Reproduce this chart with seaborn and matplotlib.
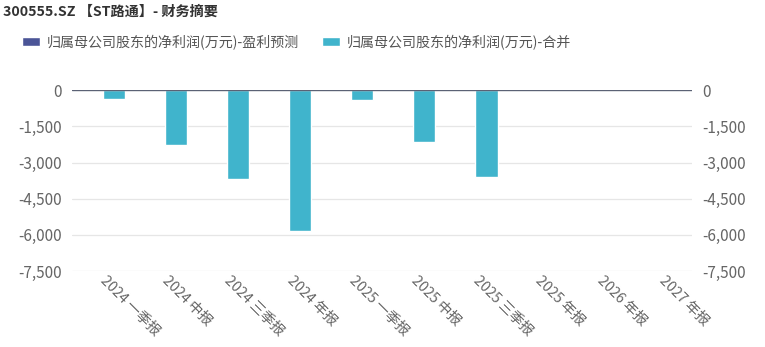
import matplotlib
matplotlib.use("Agg")
import matplotlib.pyplot as plt
import matplotlib.transforms as mtransforms
import seaborn as sns
import pandas as pd
import numpy as np
from matplotlib.ticker import FuncFormatter
from matplotlib.patches import Patch

sns.set_theme(style="white")
plt.rcParams["font.family"] = ["Noto Sans CJK SC", "DejaVu Sans"]

periods = ["2024 一季报", "2024 中报", "2024 三季报", "2024 年报",
           "2025 一季报", "2025 中报", "2025 三季报", "2025 年报",
           "2026 年报", "2027 年报"]
forecast = [np.nan] * 10
merged = [-360, -2270, -3670, -5820, -390, -2160, -3615, np.nan, np.nan, np.nan]

s_forecast = "归属母公司股东的净利润(万元)-盈利预测"
s_merged = "归属母公司股东的净利润(万元)-合并"
colors = {s_forecast: "#4b5597", s_merged: "#40b4cc"}

df = pd.DataFrame({
    "period": periods * 2,
    "series": [s_forecast] * len(periods) + [s_merged] * len(periods),
    "value": forecast + merged,
})

fig = plt.figure(figsize=(7.65, 3.47), dpi=100)
ax = fig.add_axes([0.094, 0.219, 0.811, 0.521])

sns.barplot(data=df, x="period", y="value", hue="series", order=periods,
            hue_order=[s_forecast, s_merged], palette=colors,
            width=0.72, gap=0, dodge=True, saturation=1, ax=ax, legend=False,
            errorbar=None)

ax.set_ylim(-7500, 0)
ax.set_xlim(-0.5, len(periods) - 0.5)
yt = [0, -1500, -3000, -4500, -6000, -7500]
ax.set_yticks(yt)
fmt = FuncFormatter(lambda v, p: f"{int(v):,}")
ax.yaxis.set_major_formatter(fmt)
for y in yt[1:]:
    ax.axhline(y, color="#e6e6e6", lw=0.9, zorder=0)
ax.axhline(0, color="#5b6275", lw=1.0, zorder=3)

for s in ax.spines.values():
    s.set_visible(False)
ax.tick_params(axis="y", length=0, pad=7, labelsize=11, labelcolor="#666666")
ax.tick_params(axis="x", length=0, pad=2, labelsize=10.3, labelcolor="#666666")
ax.set_xlabel("")
ax.set_ylabel("")
ax.set_xticks(range(len(periods)))
ax.set_xticklabels(periods, rotation=-45, ha="left", va="top", rotation_mode="anchor")
shift = mtransforms.ScaledTranslation(5 / 100, 0, fig.dpi_scale_trans)
for lab in ax.get_xticklabels():
    lab.set_transform(lab.get_transform() + shift)

ax2 = ax.twinx()
ax2.set_ylim(ax.get_ylim())
ax2.set_yticks(yt)
ax2.yaxis.set_major_formatter(fmt)
for s in ax2.spines.values():
    s.set_visible(False)
ax2.tick_params(axis="y", length=0, pad=7, labelsize=11, labelcolor="#666666")

fig.text(0.004, 0.965, "300555.SZ 【ST路通】- 财务摘要", fontsize=10.2,
         fontweight="bold", color="#333333", va="center", ha="left")

handles = [Patch(facecolor=colors[s_forecast]), Patch(facecolor=colors[s_merged])]
fig.legend(handles, [s_forecast, s_merged], loc="center left",
           bbox_to_anchor=(0.012, 0.878), ncol=2, frameon=False, fontsize=10.1,
           handlelength=1.3, handleheight=0.6, handletextpad=0.5,
           columnspacing=1.6, labelcolor="#555555")

fig.savefig("out.png", dpi=100)
